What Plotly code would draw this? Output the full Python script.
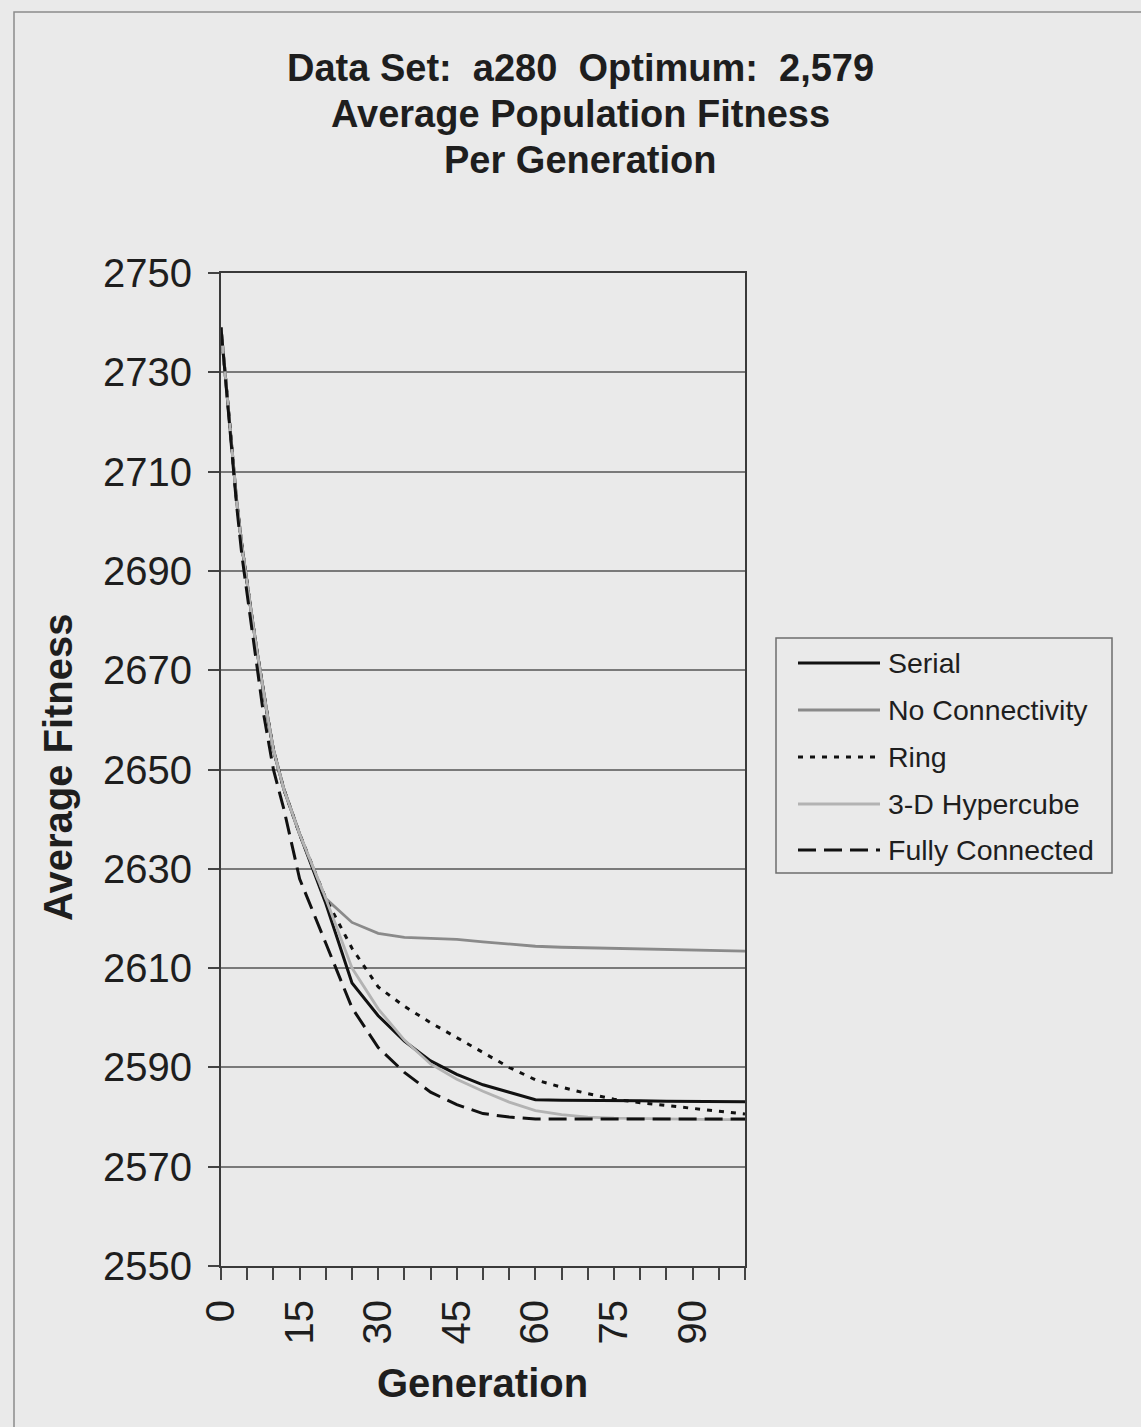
import plotly.graph_objects as go

# Generation at which each average was recorded
generations = [0, 1, 2, 3, 4, 5, 6, 7, 8, 9, 10, 12, 15, 20, 25, 30, 35, 40, 45,
               50, 55, 60, 65, 70, 75, 80, 85, 90, 95, 100]

serial = [2739, 2727, 2715, 2704, 2695, 2687, 2680, 2673, 2666, 2660, 2654, 2646,
          2637, 2623, 2607, 2600.4, 2595.3, 2591.3, 2588.6, 2586.5, 2585, 2583.5,
          2583.4, 2583.4, 2583.3, 2583.3, 2583.2, 2583.2, 2583.1, 2583.1]

no_connectivity = [2739, 2727, 2715, 2704, 2695, 2687, 2680, 2673, 2666, 2660, 2654,
                   2646, 2637, 2624, 2619.2, 2617, 2616.2, 2616, 2615.8, 2615.3,
                   2614.8, 2614.4, 2614.2, 2614.1, 2614, 2613.9, 2613.8, 2613.6,
                   2613.5, 2613.4]

ring = [2739, 2727, 2715, 2704, 2695, 2687, 2680, 2673, 2666, 2660, 2654, 2646,
        2637, 2624, 2614, 2606.2, 2602.3, 2599, 2596, 2593, 2590, 2587.5, 2586,
        2584.7, 2583.6, 2582.9, 2582.3, 2581.7, 2581.1, 2580.6]

hypercube = [2739, 2727, 2715, 2704, 2695, 2687, 2680, 2673, 2666, 2660, 2654, 2646,
             2637, 2624, 2610, 2601.8, 2595.5, 2590.7, 2587.6, 2585.2, 2583, 2581.3,
             2580.5, 2580, 2579.8, 2579.7, 2579.6, 2579.6, 2579.5, 2579.5]

fully_connected = [2739, 2727, 2714, 2703, 2693, 2685, 2677, 2669, 2662, 2656, 2650,
                   2642, 2628, 2615, 2602, 2594, 2589, 2585, 2582.5, 2580.7, 2580,
                   2579.6, 2579.6, 2579.7, 2579.7, 2579.7, 2579.7, 2579.6, 2579.6,
                   2579.6]

series_names = ["Serial", "No Connectivity", "Ring", "3-D Hypercube", "Fully Connected"]
x_tick_values = [0, 15, 30, 45, 60, 75, 90]
y_tick_values = [2550, 2570, 2590, 2610, 2630, 2650, 2670, 2690, 2710, 2730, 2750]

FONT = "Liberation Sans, Arial, Helvetica, sans-serif"
BG = "#eaeaea"
INK = "#1e1e1e"

styles = [
    dict(color="#111111", width=3, dash="solid"),
    dict(color="#8a8a8a", width=2.8, dash="solid"),
    dict(color="#111111", width=3, dash="5px,7px"),
    dict(color="#b3b3b3", width=2.8, dash="solid"),
    dict(color="#111111", width=3, dash="18px,8px"),
]
all_series = [serial, no_connectivity, ring, hypercube, fully_connected]

fig = go.Figure()
for name, values, st in zip(series_names, all_series, styles):
    fig.add_trace(go.Scatter(x=generations, y=values, mode="lines", name=name,
                             line=st, showlegend=False))

# Plot-area geometry (pixels) used to place paper-referenced decorations
L, R, T, B = 221, 745, 273, 1266
W, H = 1141, 1427


def px(x):
    return (x - L) / (R - L)


def py(y):
    return (B - y) / (B - T)


shapes = []
annotations = []

# Outer chart frame
shapes.append(dict(type="rect", xref="paper", yref="paper",
                   x0=px(14), x1=px(1160), y0=py(12), y1=py(1450),
                   line=dict(color="#8c8c8c", width=1.5), fillcolor="rgba(0,0,0,0)",
                   layer="below"))

# Legend box
shapes.append(dict(type="rect", xref="paper", yref="paper",
                   x0=px(776), x1=px(1112), y0=py(638), y1=py(873),
                   line=dict(color="#6e6e6e", width=1.5), fillcolor="rgba(0,0,0,0)"))
legend_rows = [663, 710, 757, 804, 850]
for name, st, ry in zip(series_names, styles, legend_rows):
    shapes.append(dict(type="line", xref="paper", yref="paper",
                       x0=px(798), x1=px(880), y0=py(ry), y1=py(ry),
                       line=st))
    annotations.append(dict(xref="paper", yref="paper", x=px(886), y=py(ry),
                            text=name, showarrow=False, xanchor="left",
                            yanchor="middle",
                            font=dict(family=FONT, size=28.5, color=INK)))

# Title lines
title_lines = ["Data Set:  a280  Optimum:  2,579", "Average Population Fitness",
               "Per Generation"]
for line, cy in zip(title_lines, [68, 114, 160]):
    annotations.append(dict(xref="paper", yref="paper", x=px(580), y=py(cy),
                            text="<b>" + line.replace("  ", "&nbsp; ") + "</b>",
                            showarrow=False, xanchor="center", yanchor="middle",
                            font=dict(family=FONT, size=38, color=INK)))

# Axis titles
annotations.append(dict(xref="paper", yref="paper", x=px(58), y=py(767),
                        text="<b>Average Fitness</b>", showarrow=False,
                        textangle=-90, xanchor="center", yanchor="middle",
                        font=dict(family=FONT, size=40, color=INK)))
annotations.append(dict(xref="paper", yref="paper", x=px(482), y=py(1383),
                        text="<b>Generation</b>", showarrow=False,
                        xanchor="center", yanchor="middle",
                        font=dict(family=FONT, size=40, color=INK)))

fig.update_layout(
    width=W, height=H,
    margin=dict(l=L, r=W - R, t=T, b=H - B, pad=0),
    paper_bgcolor=BG, plot_bgcolor=BG,
    font=dict(family=FONT, color=INK),
    showlegend=False,
    shapes=shapes,
    annotations=annotations,
)

fig.update_xaxes(
    range=[0, 100], tickvals=x_tick_values, ticktext=[str(v) for v in x_tick_values],
    tickangle=-90, ticks="outside", ticklen=12, tickwidth=1.5, tickcolor="#444444",
    tickfont=dict(family=FONT, size=40, color=INK),
    ticklabelstandoff=4,
    minor=dict(dtick=5, tick0=0, ticks="outside", ticklen=12, tickwidth=1.5,
               tickcolor="#444444", showgrid=False),
    showgrid=False, zeroline=False,
    showline=True, linecolor="#3a3a3a", linewidth=2, mirror=True,
)

fig.update_yaxes(
    range=[2550, 2750], tickvals=y_tick_values, ticks="outside", ticklen=11,
    tickwidth=1.5, tickcolor="#444444",
    tickfont=dict(family=FONT, size=40, color=INK),
    ticklabelstandoff=8,
    showgrid=True, gridcolor="#7a7a7a", gridwidth=1.5, zeroline=False,
    showline=True, linecolor="#3a3a3a", linewidth=2, mirror=True,
)

fig.write_html("out.html")
